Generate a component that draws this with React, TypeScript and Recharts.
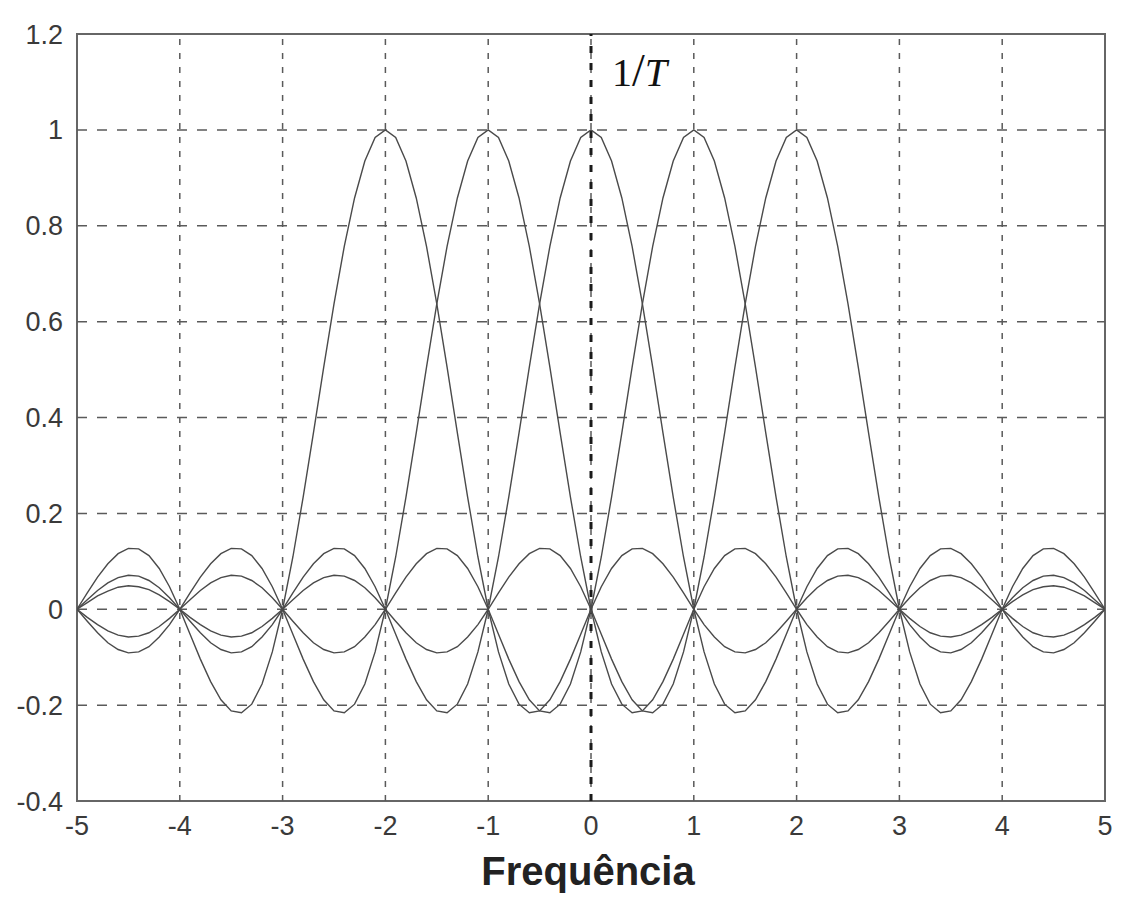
import React from 'react';
import { LineChart, Line, XAxis, YAxis, ReferenceLine, ReferenceArea, Label } from 'recharts';

const frequency = [
  -5, -4.9, -4.8, -4.7, -4.6, -4.5, -4.4, -4.3, -4.2, -4.1,
  -4, -3.9, -3.8, -3.7, -3.6, -3.5, -3.4, -3.3, -3.2, -3.1,
  -3, -2.9, -2.8, -2.7, -2.6, -2.5, -2.4, -2.3, -2.2, -2.1,
  -2, -1.9, -1.8, -1.7, -1.6, -1.5, -1.4, -1.3, -1.2, -1.1,
  -1, -0.9, -0.8, -0.7, -0.6, -0.5, -0.4, -0.3, -0.2, -0.1,
  0, 0.1, 0.2, 0.3, 0.4, 0.5, 0.6, 0.7, 0.8, 0.9,
  1, 1.1, 1.2, 1.3, 1.4, 1.5, 1.6, 1.7, 1.8, 1.9,
  2, 2.1, 2.2, 2.3, 2.4, 2.5, 2.6, 2.7, 2.8, 2.9,
  3, 3.1, 3.2, 3.3, 3.4, 3.5, 3.6, 3.7, 3.8, 3.9,
  4, 4.1, 4.2, 4.3, 4.4, 4.5, 4.6, 4.7, 4.8, 4.9,
  5,
];

// pulse centred at -2
const pulseM2 = [
  0, 0.034, 0.067, 0.095, 0.116, 0.127, 0.126, 0.112, 0.085, 0.047,
  0, -0.052, -0.104, -0.151, -0.189, -0.212, -0.216, -0.198, -0.156, -0.089,
  0, 0.109, 0.234, 0.368, 0.505, 0.637, 0.757, 0.858, 0.935, 0.984,
  1, 0.984, 0.935, 0.858, 0.757, 0.637, 0.505, 0.368, 0.234, 0.109,
  0, -0.089, -0.156, -0.198, -0.216, -0.212, -0.189, -0.151, -0.104, -0.052,
  0, 0.047, 0.085, 0.112, 0.126, 0.127, 0.116, 0.095, 0.067, 0.034,
  0, -0.032, -0.058, -0.078, -0.089, -0.091, -0.084, -0.07, -0.049, -0.025,
  0, 0.024, 0.045, 0.06, 0.069, 0.071, 0.066, 0.055, 0.039, 0.02,
  0, -0.019, -0.036, -0.049, -0.056, -0.058, -0.054, -0.045, -0.032, -0.017,
  0, 0.016, 0.03, 0.041, 0.047, 0.049, 0.046, 0.038, 0.028, 0.014,
  0,
];

// pulse centred at -1
const pulseM1 = [
  0, -0.025, -0.049, -0.07, -0.084, -0.091, -0.089, -0.078, -0.058, -0.032,
  0, 0.034, 0.067, 0.095, 0.116, 0.127, 0.126, 0.112, 0.085, 0.047,
  0, -0.052, -0.104, -0.151, -0.189, -0.212, -0.216, -0.198, -0.156, -0.089,
  0, 0.109, 0.234, 0.368, 0.505, 0.637, 0.757, 0.858, 0.935, 0.984,
  1, 0.984, 0.935, 0.858, 0.757, 0.637, 0.505, 0.368, 0.234, 0.109,
  0, -0.089, -0.156, -0.198, -0.216, -0.212, -0.189, -0.151, -0.104, -0.052,
  0, 0.047, 0.085, 0.112, 0.126, 0.127, 0.116, 0.095, 0.067, 0.034,
  0, -0.032, -0.058, -0.078, -0.089, -0.091, -0.084, -0.07, -0.049, -0.025,
  0, 0.024, 0.045, 0.06, 0.069, 0.071, 0.066, 0.055, 0.039, 0.02,
  0, -0.019, -0.036, -0.049, -0.056, -0.058, -0.054, -0.045, -0.032, -0.017,
  0,
];

// pulse centred at 0
const pulse0 = [
  0, 0.02, 0.039, 0.055, 0.066, 0.071, 0.069, 0.06, 0.045, 0.024,
  0, -0.025, -0.049, -0.07, -0.084, -0.091, -0.089, -0.078, -0.058, -0.032,
  0, 0.034, 0.067, 0.095, 0.116, 0.127, 0.126, 0.112, 0.085, 0.047,
  0, -0.052, -0.104, -0.151, -0.189, -0.212, -0.216, -0.198, -0.156, -0.089,
  0, 0.109, 0.234, 0.368, 0.505, 0.637, 0.757, 0.858, 0.935, 0.984,
  1, 0.984, 0.935, 0.858, 0.757, 0.637, 0.505, 0.368, 0.234, 0.109,
  0, -0.089, -0.156, -0.198, -0.216, -0.212, -0.189, -0.151, -0.104, -0.052,
  0, 0.047, 0.085, 0.112, 0.126, 0.127, 0.116, 0.095, 0.067, 0.034,
  0, -0.032, -0.058, -0.078, -0.089, -0.091, -0.084, -0.07, -0.049, -0.025,
  0, 0.024, 0.045, 0.06, 0.069, 0.071, 0.066, 0.055, 0.039, 0.02,
  0,
];

// pulse centred at 1
const pulseP1 = [
  0, -0.017, -0.032, -0.045, -0.054, -0.058, -0.056, -0.049, -0.036, -0.019,
  0, 0.02, 0.039, 0.055, 0.066, 0.071, 0.069, 0.06, 0.045, 0.024,
  0, -0.025, -0.049, -0.07, -0.084, -0.091, -0.089, -0.078, -0.058, -0.032,
  0, 0.034, 0.067, 0.095, 0.116, 0.127, 0.126, 0.112, 0.085, 0.047,
  0, -0.052, -0.104, -0.151, -0.189, -0.212, -0.216, -0.198, -0.156, -0.089,
  0, 0.109, 0.234, 0.368, 0.505, 0.637, 0.757, 0.858, 0.935, 0.984,
  1, 0.984, 0.935, 0.858, 0.757, 0.637, 0.505, 0.368, 0.234, 0.109,
  0, -0.089, -0.156, -0.198, -0.216, -0.212, -0.189, -0.151, -0.104, -0.052,
  0, 0.047, 0.085, 0.112, 0.126, 0.127, 0.116, 0.095, 0.067, 0.034,
  0, -0.032, -0.058, -0.078, -0.089, -0.091, -0.084, -0.07, -0.049, -0.025,
  0,
];

// pulse centred at 2
const pulseP2 = [
  0, 0.014, 0.028, 0.038, 0.046, 0.049, 0.047, 0.041, 0.03, 0.016,
  0, -0.017, -0.032, -0.045, -0.054, -0.058, -0.056, -0.049, -0.036, -0.019,
  0, 0.02, 0.039, 0.055, 0.066, 0.071, 0.069, 0.06, 0.045, 0.024,
  0, -0.025, -0.049, -0.07, -0.084, -0.091, -0.089, -0.078, -0.058, -0.032,
  0, 0.034, 0.067, 0.095, 0.116, 0.127, 0.126, 0.112, 0.085, 0.047,
  0, -0.052, -0.104, -0.151, -0.189, -0.212, -0.216, -0.198, -0.156, -0.089,
  0, 0.109, 0.234, 0.368, 0.505, 0.637, 0.757, 0.858, 0.935, 0.984,
  1, 0.984, 0.935, 0.858, 0.757, 0.637, 0.505, 0.368, 0.234, 0.109,
  0, -0.089, -0.156, -0.198, -0.216, -0.212, -0.189, -0.151, -0.104, -0.052,
  0, 0.047, 0.085, 0.112, 0.126, 0.127, 0.116, 0.095, 0.067, 0.034,
  0,
];

const xTicks = [-5, -4, -3, -2, -1, 0, 1, 2, 3, 4, 5];
const yTicks = [-0.4, -0.2, 0, 0.2, 0.4, 0.6, 0.8, 1, 1.2];
const xLabel = 'Frequência';
const markerX = 0;

const rows = frequency.map((f, i) => ({
  f,
  m2: pulseM2[i],
  m1: pulseM1[i],
  z0: pulse0[i],
  p1: pulseP1[i],
  p2: pulseP2[i],
}));

const seriesKeys = ['m2', 'm1', 'z0', 'p1', 'p2'];

const tickStyle = { fontFamily: '"Liberation Sans", Arial, sans-serif', fontSize: 27, fill: '#3a3a3a' };

const GRID = '#5a5a5a';

export default function App() {
  return (
    <div style={{ width: 1115, height: 891, background: '#fff' }}>
      <LineChart width={1115} height={891} data={rows} margin={{ top: 26, right: 18, bottom: 0, left: 0 }}>
        <XAxis
          dataKey="f"
          type="number"
          domain={[-5, 5]}
          ticks={xTicks}
          allowDataOverflow
          height={98}
          axisLine={false}
          tickLine={false}
          tickMargin={9}
          tick={tickStyle}
        >
          <Label
            content={(props: any) => {
              const vb = props.viewBox || {};
              return (
                <text
                  x={vb.x + vb.width / 2 - 3}
                  y={vb.y + 84}
                  textAnchor="middle"
                  fontFamily='"Liberation Sans", Arial, sans-serif'
                  fontWeight="bold"
                  fontSize={40}
                  fill="#222"
                >
                  {xLabel}
                </text>
              );
            }}
          />
        </XAxis>
        <YAxis
          type="number"
          domain={[-0.4, 1.2]}
          ticks={yTicks}
          allowDataOverflow
          width={69}
          axisLine={false}
          tickLine={false}
          tickMargin={8}
          tick={tickStyle}
        />
        {yTicks.slice(1, -1).map((y) => (
          <ReferenceLine
            key={'h' + y}
            y={y}
            stroke={GRID}
            strokeWidth={1.5}
            strokeDasharray="10 10"
          />
        ))}
        {xTicks.slice(1, -1).map((x) => (
          <ReferenceLine
            key={'v' + x}
            x={x}
            stroke={GRID}
            strokeWidth={1.5}
            strokeDasharray="6 8"
          />
        ))}
        <ReferenceLine
          x={markerX}
          stroke="#1a1a1a"
          strokeWidth={3}
          strokeDasharray="7 10"
          label={(props: any) => {
            const vb = props.viewBox || {};
            return (
              <text
                x={vb.x + 21}
                y={vb.y + 52}
                fontFamily='"Liberation Serif", "Times New Roman", serif'
                fontSize={40}
                fill="#111"
              >
                <tspan>1</tspan>
                <tspan fontSize={46}>/</tspan>
                <tspan fontStyle="italic">T</tspan>
              </text>
            );
          }}
        />
        <ReferenceArea
          x1={-5}
          x2={5}
          y1={-0.4}
          y2={1.2}
          fill="none"
          fillOpacity={0}
          stroke="#666"
          strokeWidth={2}
          strokeOpacity={1}
        />
        {seriesKeys.map((k) => (
          <Line
            key={k}
            dataKey={k}
            type="linear"
            stroke="#4a4a4a"
            strokeWidth={1.4}
            dot={false}
            activeDot={false}
            isAnimationActive={false}
          />
        ))}
      </LineChart>
    </div>
  );
}
